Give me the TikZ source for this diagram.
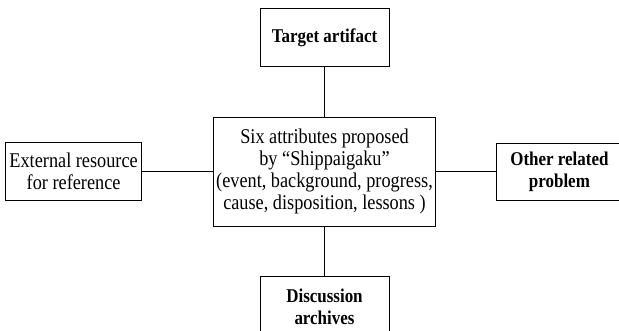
\documentclass[tikz,border=0pt]{standalone}
\usepackage{fontspec}
\setmainfont[FakeStretch=0.87]{Liberation Serif}
\usetikzlibrary{positioning}

\tikzset{
  box/.style={draw, line width=0.9pt, align=center, inner sep=1pt,
    font=\fontsize{21}{22}\selectfont},
  boldbox/.style={box, font=\fontsize{19.5}{22}\selectfont\bfseries}
}

\begin{document}
\begin{tikzpicture}[x=1pt, y=1pt, node distance = 50pt]
        \useasboundingbox (0,0) rectangle (619,-331);
        \clip (0,0) rectangle (619,-331);

        \node[box, minimum width=222pt, minimum height=109pt] (attr) at (324.5,-171.5)
          {Six attributes proposed\\ by ``Shippaigaku''\\(event, background, progress,\\cause, disposition, lessons )};
        \node[boldbox, above=50pt of attr, minimum width=129pt, minimum height=57.5pt] (target) {Target artifact};
        \node[boldbox, below=50pt of attr, minimum width=129pt, minimum height=60pt] (disc) {Discussion\\archives};
        \node[box, left=71pt of attr, minimum width=136pt, minimum height=58pt] (ext) {External resource\\for reference};
        \node[boldbox, right=60.5pt of attr, minimum width=125pt, minimum height=57pt] (other) {Other related\\problem};

        \draw[line width=0.9pt] (attr) edge (target);
        \draw[line width=0.9pt] (attr) edge (disc);
        \draw[line width=0.9pt] (attr) edge (ext);
        \draw[line width=0.9pt] (attr) edge (other);
      \end{tikzpicture}
\end{document}
